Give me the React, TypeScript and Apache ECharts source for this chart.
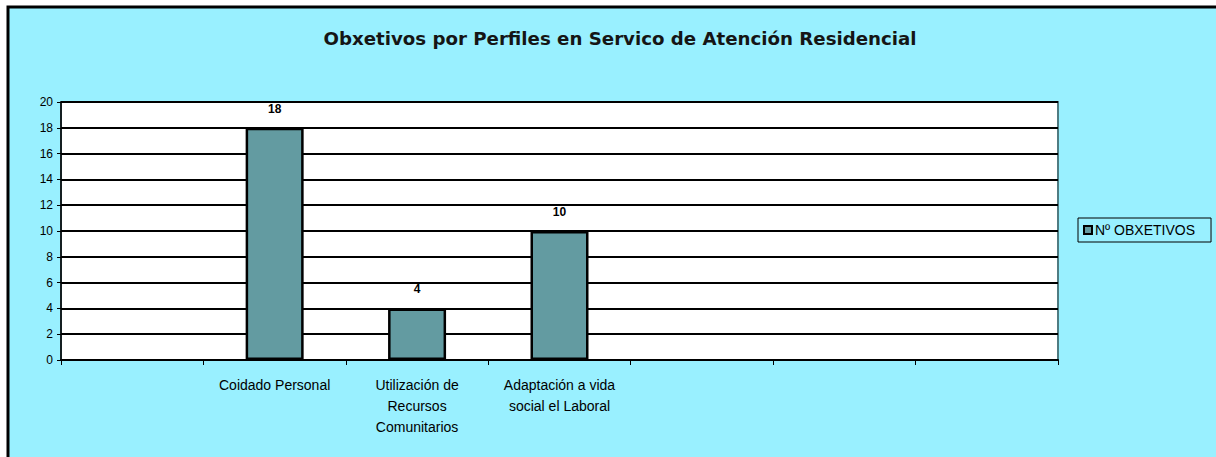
import React, { useEffect, useRef } from "react";
import * as echarts from "echarts";

const title = "Obxetivos por Perfiles en Servico de Atención Residencial";
const categories = [
  "",
  "Coidado Personal",
  "Utilización de\nRecursos\nComunitarios",
  "Adaptación a vida\nsocial el Laboral",
  "",
  "",
  "",
];
const seriesName = "Nº OBXETIVOS";
const values = [null, 18, 4, 10, null, null, null];
const yMin = 0;
const yMax = 20;
const yInterval = 2;

export default function App() {
  const ref = useRef<HTMLDivElement>(null);
  useEffect(() => {
    if (!ref.current) return;
    const chart = echarts.init(ref.current, undefined, { renderer: "svg" });
    const font = "'Liberation Sans', Arial, sans-serif";
    chart.setOption({
      animation: false,
      backgroundColor: "#ffffff",
      graphic: [
        {
          type: "rect",
          z: -10,
          silent: true,
          shape: { x: 8, y: 7, width: 1220, height: 460 },
          style: { fill: "#99F0FF", stroke: "#000", lineWidth: 3 },
        },
      ],
      title: {
        text: title,
        left: 615,
        textAlign: "center",
        top: 24,
        textStyle: {
          fontFamily: "'DejaVu Sans', sans-serif",
          fontWeight: "bold",
          fontSize: 18.2,
          color: "#151515",
        },
      },
      legend: {
        orient: "vertical",
        left: 1078,
        top: 218,
        data: [seriesName],
        icon: "rect",
        itemWidth: 8,
        itemHeight: 8,
        itemGap: 4,
        padding: [5, 16, 5, 5],
        borderColor: "#000",
        borderWidth: 1,
        backgroundColor: "transparent",
        textStyle: { fontFamily: font, fontSize: 14, color: "#000", padding: [0, 0, 0, -2] },
      },
      grid: {
        left: 61,
        right: 158,
        top: 102,
        bottom: 97,
        show: true,
        backgroundColor: "#ffffff",
        borderColor: "#4F7C82",
        borderWidth: 2,
      },
      xAxis: {
        type: "category",
        data: categories,
        boundaryGap: true,
        axisLine: { show: true, lineStyle: { color: "#000", width: 2 } },
        axisTick: { show: true, alignWithLabel: false, length: 5, lineStyle: { color: "#000" } },
        axisLabel: {
          interval: 0,
          margin: 14,
          color: "#000",
          fontFamily: font,
          fontSize: 14,
          lineHeight: 21,
        },
        splitLine: { show: false },
      },
      yAxis: {
        type: "value",
        min: yMin,
        max: yMax,
        interval: yInterval,
        axisLine: { show: true, lineStyle: { color: "#000", width: 1.5 } },
        axisTick: { show: true, length: 4, lineStyle: { color: "#000" } },
        axisLabel: { color: "#000", fontFamily: font, fontSize: 12, margin: 8 },
        splitLine: { show: true, lineStyle: { color: "#000", width: 2 } },
      },
      series: [
        {
          name: seriesName,
          type: "bar",
          data: values,
          barWidth: 58,
          itemStyle: { color: "#639BA1", borderColor: "#000", borderWidth: 2.5 },
          label: {
            show: true,
            position: "top",
            distance: 13,
            color: "#000",
            fontFamily: font,
            fontWeight: "bold",
            fontSize: 12,
          },
        },
      ],
    });
    return () => chart.dispose();
  }, []);
  return (
    <div
      ref={ref}
      style={{ position: "absolute", left: 0, top: 0, width: 1216, height: 457 }}
    />
  );
}
